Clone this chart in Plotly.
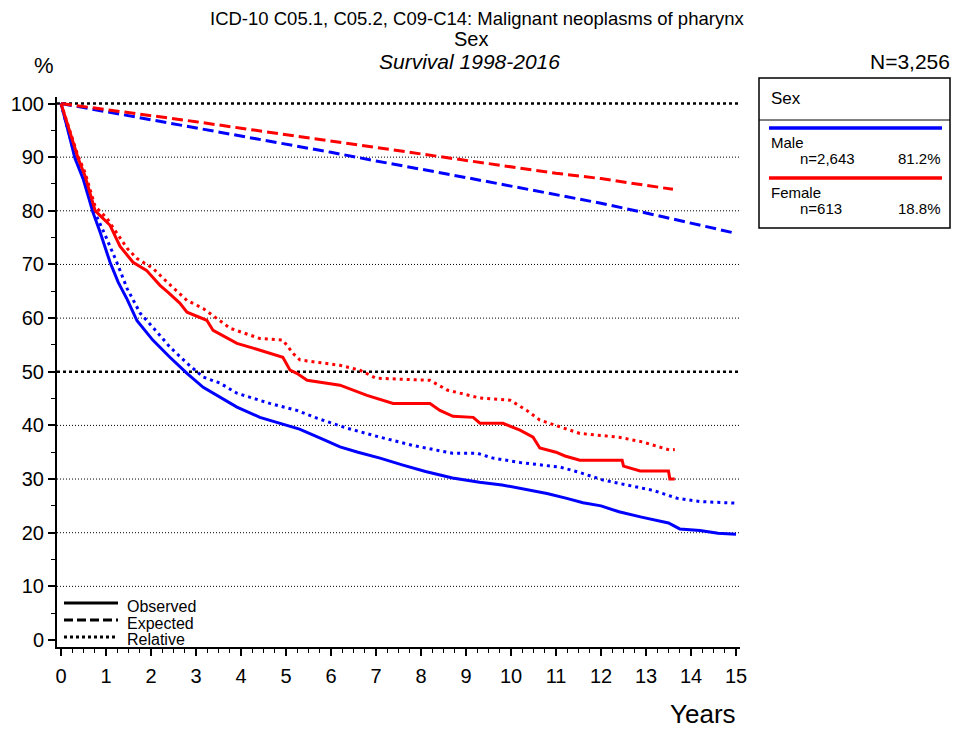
import plotly.graph_objects as go

# ---- survival data (years since diagnosis, % surviving) ----
male_obs_t = [0, 0.1, 0.2, 0.31, 0.49, 0.6, 0.71, 0.87, 1.09, 1.27, 1.47, 1.69, 2.04, 2.42, 2.8,
              3.16, 3.53, 3.91, 4.42, 4.87, 5.3, 5.8, 6.2, 6.6, 7.09, 7.6, 8.1, 8.7, 9.3, 9.8,
              10.2, 10.8, 11.24, 11.6, 12.0, 12.4, 12.9, 13.5, 13.75, 14.2, 14.6, 15]
male_obs_v = [100, 96.5, 93.5, 89.8, 86, 82.9, 79.7, 76, 70.4, 66.7, 63.5, 59.5, 55.9, 52.7, 49.7,
              47.1, 45.3, 43.4, 41.5, 40.4, 39.3, 37.5, 36.0, 35.0, 33.9, 32.6, 31.4, 30.2, 29.4, 28.9,
              28.3, 27.3, 26.4, 25.6, 25.0, 23.9, 22.9, 21.8, 20.7, 20.4, 19.9, 19.7]

male_rel_t = [0, 0.2, 0.31, 0.49, 0.71, 0.98, 1.24, 1.47, 1.76, 2.04, 2.42, 2.8, 3.16, 3.53, 3.91,
              4.64, 5.24, 5.7, 6.35, 7.0, 7.8, 8.7, 9.25, 9.6, 10.2, 11.1, 11.5, 12.05, 12.6, 13.15,
              13.7, 14.2, 15]
male_rel_v = [100, 93.8, 90.2, 86.5, 80.5, 75.5, 70.4, 65.5, 60.9, 58.3, 54.6, 51.6, 49.0, 47.9, 46.0,
              44.1, 42.8, 41.3, 39.5, 38.0, 36.3, 34.8, 34.8, 33.9, 33.1, 32.2, 31.3, 29.8, 28.8, 27.9,
              26.4, 25.8, 25.5]

male_exp_t = list(range(0, 16))
male_exp_v = [100, 98.5, 97.0, 95.5, 94.0, 92.4, 90.9, 89.3, 87.8, 86.2, 84.6, 83.0, 81.4, 79.6, 77.7, 75.8]

female_obs_t = [0, 0.2, 0.38, 0.53, 0.64, 0.76, 0.87, 1.09, 1.31, 1.6, 1.9, 2.2, 2.38, 2.64, 2.8,
                3.24, 3.38, 3.91, 4.27, 4.93, 5.09, 5.24, 5.47, 6.2, 6.8, 7.38, 8.2, 8.42, 8.71, 9.16,
                9.31, 9.82, 10.2, 10.49, 10.64, 11.0, 11.2, 11.53, 12.47, 12.5, 12.87, 13.5, 13.53, 13.64]
female_obs_v = [100, 94.6, 89.8, 86.6, 83.4, 80, 79.1, 77.3, 73.4, 70.4, 68.9, 66.1, 64.8, 62.8, 61.1,
                59.6, 57.7, 55.3, 54.4, 52.7, 50.3, 49.7, 48.4, 47.5, 45.6, 44.1, 44.1, 42.8, 41.7, 41.5,
                40.4, 40.4, 39.1, 37.8, 35.8, 35.0, 34.3, 33.5, 33.5, 32.4, 31.5, 31.5, 30.0, 30.0]

female_rel_t = [0, 0.2, 0.38, 0.53, 0.76, 1.02, 1.47, 1.69, 2.04, 2.36, 2.8, 3.16, 3.76, 4.42, 4.93,
                5.16, 5.31, 6.2, 6.64, 7.0, 8.2, 8.58, 9.31, 9.98, 10.35, 10.64, 11.1, 11.53, 12.4,
                12.93, 13.53, 13.64]
female_rel_v = [100, 94.8, 90.2, 87.2, 80.8, 78.6, 73.0, 71.1, 69.3, 66.7, 63.3, 61.8, 58.1, 56.2, 55.9,
                53.4, 52.2, 51.2, 50.3, 48.8, 48.4, 46.6, 45.1, 44.7, 42.8, 41.0, 39.7, 38.5, 37.8,
                36.9, 35.4, 35.5]

female_exp_t = [0, 1, 2, 3, 4, 5, 6, 7, 8, 9, 10, 11, 12, 13, 13.6]
female_exp_v = [100, 98.9, 97.7, 96.6, 95.4, 94.2, 93.0, 91.8, 90.6, 89.4, 88.2, 87.0, 86.0, 84.8, 84.0]

groups = ["Male", "Female"]
group_n = ["n=2,643", "n=613"]
group_pct = ["81.2%", "18.8%"]
line_kinds = ["Observed", "Expected", "Relative"]
x_ticks = list(range(0, 16))
y_ticks = list(range(0, 101, 10))

BLUE = "#0000FF"
RED = "#FF0000"
FONT = "Liberation Sans"

# ---- page geometry (pixels) ----
W, H = 954, 731
PL, PR, PT, PB = 57, 740, 97, 647   # plot area edges


def px(x):
    return (x - PL) / (PR - PL)


def py(y):
    return (PB - y) / (PB - PT)


DASH = "11px,5px"
DOT = "3px,4px"

fig = go.Figure()

series = [
    (male_exp_t, male_exp_v, BLUE, DASH),
    (female_exp_t, female_exp_v, RED, DASH),
    (male_rel_t, male_rel_v, BLUE, DOT),
    (female_rel_t, female_rel_v, RED, DOT),
    (male_obs_t, male_obs_v, BLUE, "solid"),
    (female_obs_t, female_obs_v, RED, "solid"),
]
for t, v, c, d in series:
    fig.add_trace(go.Scatter(x=t, y=v, mode="lines", showlegend=False, hoverinfo="skip",
                             line=dict(color=c, width=3, dash=d)))

shapes = []
# horizontal reference lines
for yv in range(10, 101, 10):
    bold = yv in (50, 100)
    shapes.append(dict(type="line", xref="paper", yref="y", x0=0, x1=1, y0=yv, y1=yv,
                       layer="below",
                       line=dict(color="black", width=2.5 if bold else 1,
                                 dash="3px,3px" if bold else "1px,2px")))

# group legend box
shapes.append(dict(type="rect", xref="paper", yref="paper",
                   x0=px(759), x1=px(950), y0=py(228), y1=py(78),
                   line=dict(color="black", width=1.5)))
shapes.append(dict(type="line", xref="paper", yref="paper",
                   x0=px(759), x1=px(950), y0=py(120), y1=py(120),
                   line=dict(color="black", width=1)))
for row_y, col in [(128, BLUE), (178, RED)]:
    shapes.append(dict(type="line", xref="paper", yref="paper",
                       x0=px(769), x1=px(942), y0=py(row_y), y1=py(row_y),
                       line=dict(color=col, width=3.5)))

# line-style key
for row_y, d in [(603, "solid"), (620, "9px,4px"), (637, "3px,3px")]:
    shapes.append(dict(type="line", xref="paper", yref="paper",
                       x0=px(64), x1=px(118), y0=py(row_y), y1=py(row_y),
                       line=dict(color="black", width=3, dash=d)))

ann = []


def text(x, y, s, size, xanchor="left", italic=False):
    ann.append(dict(xref="paper", yref="paper", x=px(x), y=py(y), text=s, showarrow=False,
                    xanchor=xanchor, yanchor="middle",
                    font=dict(family=FONT, size=size, color="black",
                              style="italic" if italic else "normal")))


text(477, 18, "ICD-10 C05.1, C05.2, C09-C14: Malignant neoplasms of pharynx", 18.5, "center")
text(471, 39, "Sex", 20, "center")
text(469, 61, "Survival 1998-2016", 21, "center", italic=True)
text(32, 65, "%", 22)
text(952, 62, "N=3,256", 21, "right")

text(769, 98, "Sex", 17)
text(769, 142, groups[0], 15)
text(798, 158, group_n[0], 15)
text(943, 158, group_pct[0], 15, "right")
text(769, 192, groups[1], 15)
text(798, 208, group_n[1], 15)
text(943, 208, group_pct[1], 15, "right")

for lbl, yy in zip(line_kinds, [606, 623, 639]):
    text(125, yy, lbl, 16)

text(703, 714, "Years", 26, "center")

x0_val = (PL - 61) / 45.0
x1_val = (PR - 61) / 45.0
y0_val = (640 - PB) / 5.365
y1_val = (640 - PT) / 5.365

fig.update_layout(
    width=W, height=H,
    margin=dict(l=PL, r=W - PR, t=PT, b=H - PB, pad=0),
    plot_bgcolor="white", paper_bgcolor="white",
    shapes=shapes, annotations=ann,
    font=dict(family=FONT, color="black"),
    xaxis=dict(range=[x0_val, x1_val], tickvals=x_ticks, ticktext=[str(v) for v in x_ticks],
               showgrid=False, zeroline=False, showline=True, linecolor="black", linewidth=2,
               ticks="outside", ticklen=7, tickwidth=1.5, tickcolor="black",
               tickfont=dict(family=FONT, size=20), ticklabelstandoff=3,
               minor=dict(dtick=0.25, tick0=0, ticks="outside", ticklen=4, tickcolor="black",
                          tickwidth=1, showgrid=False)),
    yaxis=dict(range=[y0_val, y1_val], tickvals=y_ticks, ticktext=[str(v) for v in y_ticks],
               showgrid=False, zeroline=False, showline=True, linecolor="black", linewidth=2,
               ticks="outside", ticklen=7, tickwidth=1.5, tickcolor="black",
               tickfont=dict(family=FONT, size=20),
               minor=dict(dtick=5, tick0=0, ticks="outside", ticklen=4, tickcolor="black",
                          tickwidth=1, showgrid=False)),
)

fig.write_html("out.html")
